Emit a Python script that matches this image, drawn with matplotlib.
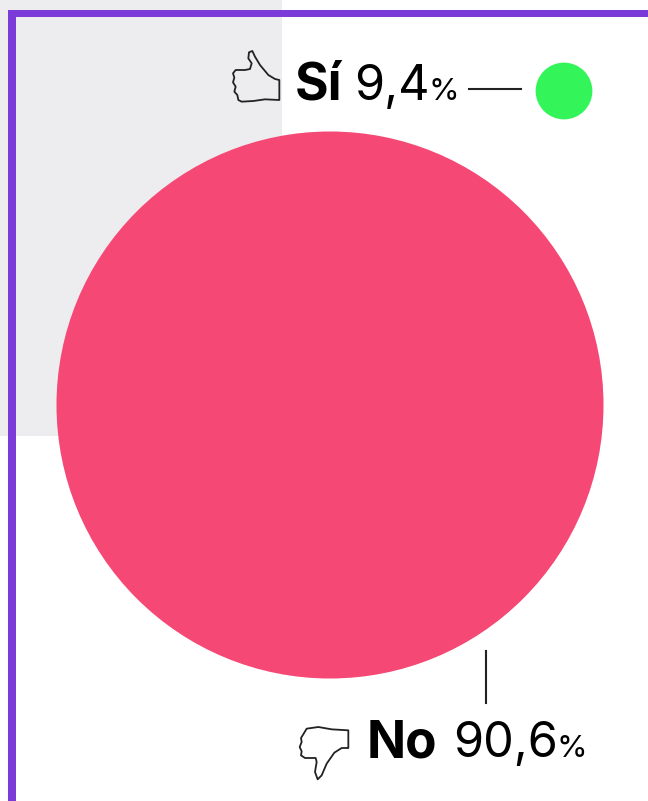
import matplotlib
matplotlib.use("Agg")
import matplotlib.pyplot as plt
from matplotlib.patches import Circle, Polygon, Rectangle

labels = ["Sí", "No"]
values = [9.4, 90.6]
colors = ["#33f55a", "#f54874"]

# hand-traced icon outlines, in pixels of the 3x crop
thumb_up = [(163, 105), (163, 165), (120, 163), (85, 168), (50, 170), (40, 165), (37, 150),
            (28, 140), (32, 125), (24, 112), (28, 98), (24, 85), (32, 75), (60, 75),
            (75, 72), (80, 55), (70, 40), (72, 22), (82, 18), (90, 35), (105, 60),
            (130, 90), (150, 102)]
thumb_down = [(160, 25), (160, 78), (140, 78), (118, 92), (95, 125), (80, 160), (68, 172),
              (60, 150), (65, 120), (62, 108), (30, 108), (18, 100), (20, 88), (14, 75),
              (20, 60), (18, 48), (26, 35), (35, 20), (70, 15), (110, 22)]

K = 273.5 / 90.6  # circle radius in px per point of percentage

fig = plt.figure(figsize=(6.48, 8.01), dpi=100)
ax = fig.add_axes([0, 0, 1, 1])
ax.set_xlim(0, 648)
ax.set_ylim(801, 0)
ax.axis("off")

# background block and frame
ax.add_patch(Rectangle((0, 0), 282, 436, fc="#edecee", ec="none", zorder=0))
ax.add_patch(Rectangle((8, 10), 640, 7, fc="#7a3bd9", ec="none", zorder=1))
ax.add_patch(Rectangle((8, 10), 8, 791, fc="#7a3bd9", ec="none", zorder=1))

# circles, diameter follows the value
ax.add_patch(Circle((564, 91), values[0] * K, fc=colors[0], ec="none", zorder=2))
ax.add_patch(Circle((330, 405), values[1] * K, fc=colors[1], ec="none", zorder=2))

# leader lines
ax.plot([469, 521], [89, 89], color="#222222", lw=1.5, zorder=3)
ax.plot([486, 486], [651, 703], color="#222222", lw=1.5, zorder=3)

# icons
ax.add_patch(Polygon([(225 + x / 3, 45 + y / 3) for x, y in thumb_up], closed=True,
                     fc="none", ec="#222222", lw=1.3, joinstyle="round", zorder=3))
ax.add_patch(Polygon([(295 + x / 3, 722 + y / 3) for x, y in thumb_down], closed=True,
                     fc="none", ec="#222222", lw=1.3, joinstyle="round", zorder=3))


def fmt(v):
    return f"{v:.1f}".replace(".", ",")


def label(name, value, x_name, x_val, x_pct, y):
    ax.text(x_name, y, name, family="Inter", weight="bold", fontsize=37, color="black", va="baseline")
    ax.text(x_val, y, fmt(value), family="Inter", weight="normal", fontsize=35, color="black", va="baseline")
    ax.text(x_pct, y, "%", family="Inter", weight="normal", fontsize=22.5, color="black", va="baseline")


label(labels[0], values[0], 295, 354.5, 429, 100)
label(labels[1], values[1], 367, 453, 556, 757)

fig.savefig("out.png", dpi=100)
